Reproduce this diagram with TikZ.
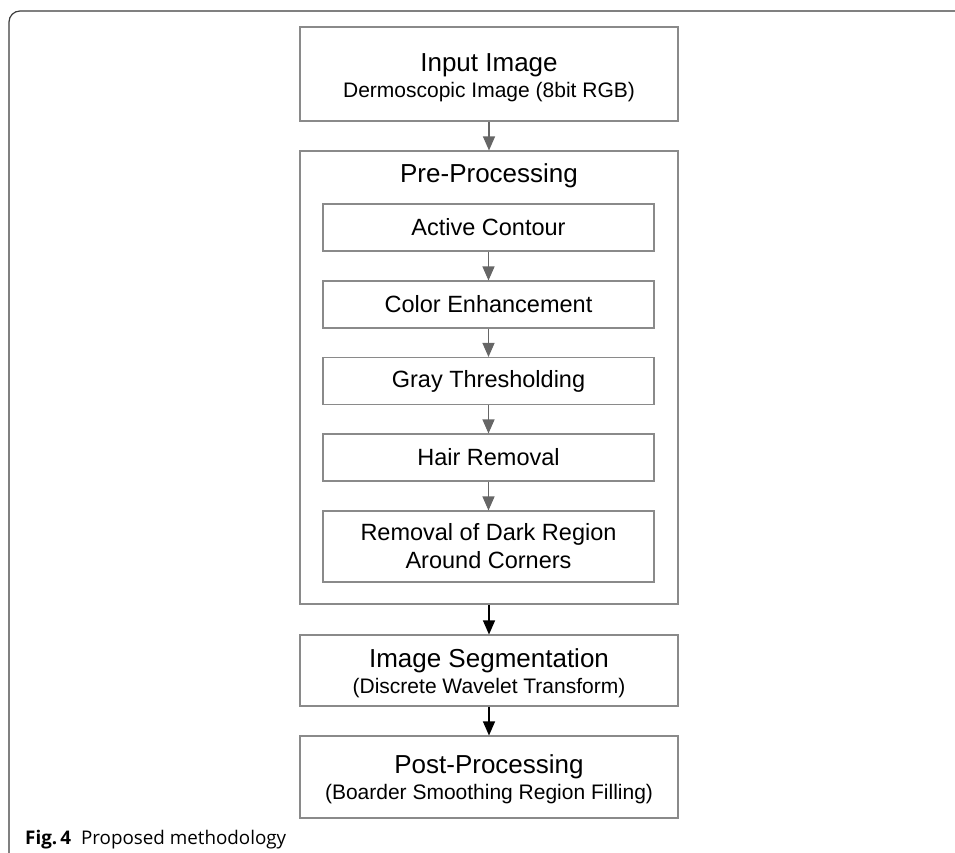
\documentclass[tikz,border=0pt]{standalone}
\usepackage{fontspec}
\setmainfont{Liberation Sans}
\newfontfamily\capfont{Open Sans}
\usetikzlibrary{arrows.meta}

\definecolor{boxline}{HTML}{8A8A8A}
\definecolor{grayarrow}{HTML}{666666}
\definecolor{frameline}{HTML}{3C3C3C}

\newcommand{\bigtxt}{\fontsize{26}{26}\selectfont}
\newcommand{\midtxt}{\fontsize{23.5}{28}\selectfont}
\newcommand{\smalltxt}{\fontsize{21}{26}\selectfont}
% taller first line pushes a two-line label a little lower in its box
\newcommand{\lowstrut}{\rule{0pt}{25pt}}

\tikzset{
  x=1pt, y=-1pt,
  stagebox/.style={draw=boxline, line width=1.1pt, rectangle, inner sep=0pt,
    align=center, minimum width=378pt, font=\smalltxt},
  subbox/.style={draw=boxline, line width=1.1pt, rectangle, inner sep=0pt,
    align=center, minimum width=331pt, minimum height=47pt, font=\midtxt},
  grayflow/.style={draw=grayarrow, line width=1.1pt,
    -{Triangle[width=12pt,length=14pt]}, grayarrow},
  blackflow/.style={draw=black, line width=1.1pt,
    -{Triangle[width=12pt,length=14pt]}, black},
}

\begin{document}
\begin{tikzpicture}
  \useasboundingbox (0,0) rectangle (955,852);

  % page frame with rounded top-left corner
  \draw[frameline, line width=1.2pt, rounded corners=11pt]
    (9,860) -- (9,11) -- (960,11);

  % input stage
  \node[stagebox, minimum height=94pt] (input) at (489,74)
    {{\bigtxt\lowstrut Input Image}\\{\smalltxt Dermoscopic Image (8bit RGB)}};

  % pre-processing container
  \node[stagebox, minimum height=453pt] (pre) at (489,377.5) {};
  \node[font=\bigtxt, anchor=base, inner sep=0pt] (pretitle) at (489,182) {Pre-Processing};

  % pre-processing steps
  \node[subbox] (active) at (488.5,227.5) {Active Contour};
  \node[subbox] (color)  at (488.5,304.5) {Color Enhancement};
  \node[subbox] (gray)   at (488.5,381) {Gray Thresholding};
  \node[subbox] (hair)   at (488.5,457.5) {Hair Removal};
  \node[subbox, minimum height=71pt] (dark) at (488.5,546.5)
    {Removal of Dark Region\\Around Corners};

  % later stages
  \node[stagebox, minimum height=71pt] (seg) at (489,670.5)
    {{\bigtxt\lowstrut Image Segmentation}\\{\smalltxt (Discrete Wavelet Transform)}};
  \node[stagebox, minimum height=82pt] (post) at (489,777)
    {{\bigtxt\rule{0pt}{24pt}Post-Processing}\\{\smalltxt (Boarder Smoothing Region Filling)}};

  % connectors
  \draw[grayflow] (input) -- (pre);
  \draw[grayflow] (active) -- (color);
  \draw[grayflow] (color) -- (gray);
  \draw[grayflow] (gray) -- (hair);
  \draw[grayflow] (hair) -- (dark);
  \draw[blackflow] (pre) -- (seg);
  \draw[blackflow] (seg) -- (post);

  % caption
  \node[anchor=base west, inner sep=0pt, font=\capfont\fontsize{18.8}{22}\selectfont] (caption)
    at (25,844) {\textbf{Fig.\,4}\hspace{10pt}Proposed methodology};
\end{tikzpicture}
\end{document}
